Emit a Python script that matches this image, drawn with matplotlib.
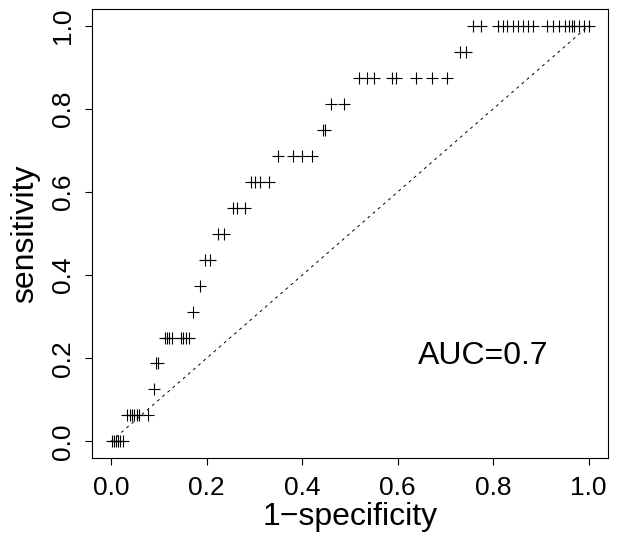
import matplotlib
matplotlib.use("Agg")
import matplotlib.pyplot as plt

plt.rcParams['font.family'] = ['Liberation Sans', 'DejaVu Sans']

# ROC points: (1-specificity, sensitivity), sensitivity in steps of 1/16
sens_levels = [i / 16 for i in range(17)]
fpr_groups = [
    [0.002, 0.006, 0.010, 0.015, 0.019, 0.025],
    [0.033, 0.039, 0.044, 0.049, 0.054, 0.059, 0.077],
    [0.089],
    [0.094, 0.099],
    [0.113, 0.117, 0.121, 0.127, 0.146, 0.151, 0.158, 0.163],
    [0.171],
    [0.187],
    [0.196, 0.208],
    [0.223, 0.236],
    [0.255, 0.263, 0.281],
    [0.294, 0.301, 0.311, 0.330],
    [0.350, 0.381, 0.399, 0.421],
    [0.444, 0.448],
    [0.461, 0.487],
    [0.520, 0.535, 0.551, 0.588, 0.597, 0.638, 0.672, 0.704],
    [0.730, 0.743],
    [0.758, 0.775, 0.810, 0.820, 0.830, 0.842, 0.852, 0.862, 0.873, 0.884,
     0.913, 0.925, 0.938, 0.950, 0.958, 0.965, 0.970, 0.980, 0.990, 1.000],
]
auc_text = "AUC=0.7"

fpr = []
tpr = []
for s, grp in zip(sens_levels, fpr_groups):
    for x in grp:
        fpr.append(x)
        tpr.append(s)

fig = plt.figure(figsize=(6.17, 5.37), dpi=100)
ax = fig.add_axes([0.149, 0.147, 0.836, 0.836])

ax.plot(fpr, tpr, linestyle='none', marker='+', markersize=9,
        markeredgewidth=0.8, color='black')
ax.plot([0, 1], [0, 1], linestyle=(0, (3, 4)), color='black', linewidth=0.7)
ax.text(0.78, 0.206, auc_text, fontsize=23, ha='center', va='center')

ax.set_xlim(-0.04, 1.04)
ax.set_ylim(-0.04, 1.04)
ticks = [0.0, 0.2, 0.4, 0.6, 0.8, 1.0]
ax.set_xticks(ticks)
ax.set_yticks(ticks)
ax.set_xticklabels(['%.1f' % t for t in ticks], fontsize=19)
ax.set_yticklabels(['%.1f' % t for t in ticks], fontsize=19, rotation=90,
                   va='center')
ax.tick_params(axis='x', direction='out', length=5, width=0.8, pad=8)
ax.tick_params(axis='y', direction='out', length=5, width=0.8, pad=7)
for sp in ax.spines.values():
    sp.set_linewidth(0.8)

ax.set_xlabel('1\u2212specificity', fontsize=23, labelpad=1)
ax.set_ylabel('sensitivity', fontsize=23, labelpad=8)

fig.savefig('out.png', dpi=100)
